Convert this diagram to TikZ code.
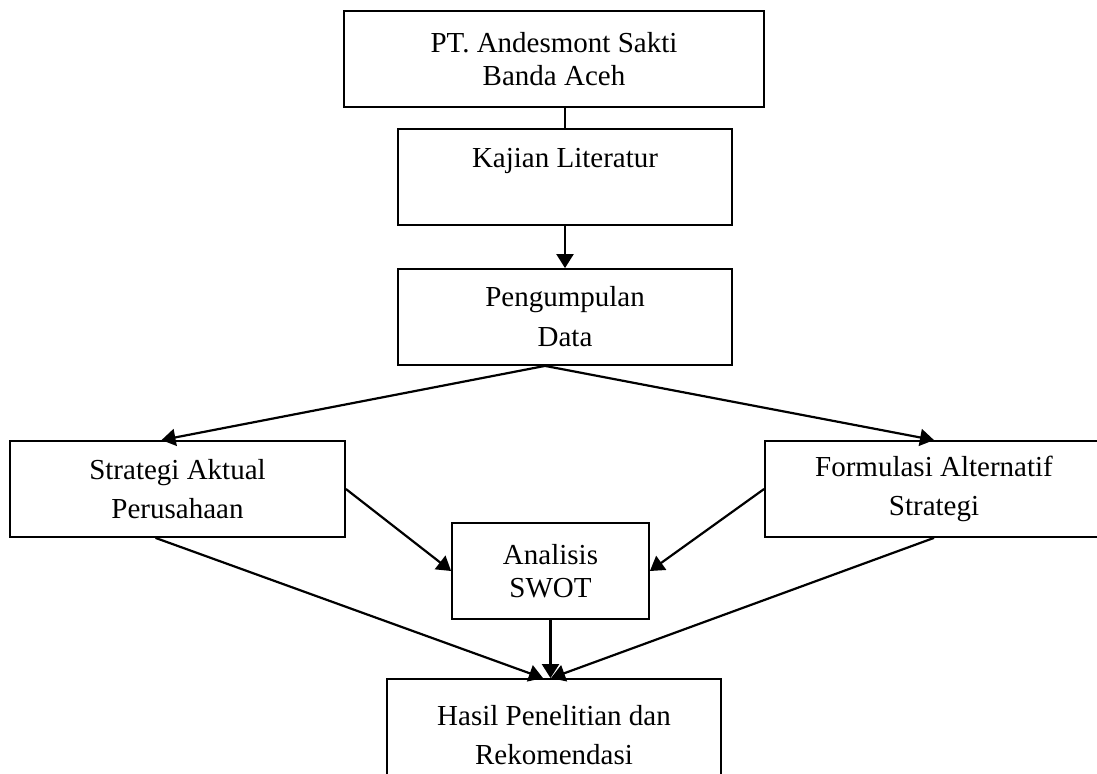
\documentclass[tikz,border=0pt]{standalone}
\usepackage{fontspec}
\setmainfont{Liberation Serif}
\usetikzlibrary{arrows.meta,calc}

\begin{document}
\begin{tikzpicture}[x=0.5pt,y=-0.5pt,
  box/.style={draw,line width=0.9pt,rectangle,align=center,inner sep=0pt,minimum height=48pt,font=\fontsize{14.5}{19.5}\selectfont},
  snug/.style={font=\fontsize{14.5}{16.5}\selectfont},
  arr/.style={line width=1.1pt,-{Triangle[length=7pt,width=8.5pt]}},
  link/.style={line width=0.9pt}]
\useasboundingbox (0,0) rectangle (1097,774);
\node[box,snug,minimum width=210pt] (andesmont) at (554,59) {PT. Andesmont Sakti\\Banda Aceh};
\node[box,minimum width=167pt] (kajian) at (565,177) {Kajian Literatur\\\mbox{}};
\node[box,font=\fontsize{14.5}{20}\selectfont,minimum width=167pt] (pengumpulan) at (565,317) {Pengumpulan\\Data};
\node[box,minimum width=167.5pt] (aktual) at (177.5,489) {Strategi Aktual\\Perusahaan};
\node[box,minimum width=169pt] (formulasi) at (934,489) {Formulasi Alternatif\\Strategi};
\node[box,snug,minimum width=98.5pt] (swot) at (550.5,571) {Analisis\\SWOT};
\node[box,minimum width=167pt,minimum height=56pt] (hasil) at (554,735) {Hasil Penelitian dan\\Rekomendasi};

\draw[link] (andesmont.south -| kajian.north) -- (kajian.north);
\draw[arr] (kajian) -- (pengumpulan);
\coordinate (split) at ($(pengumpulan.south)+(-20,0)$);
\draw[arr] (split) -- ($(aktual.north)+(-16,0)$);
\draw[arr] (split) -- (formulasi.north);
\draw[arr] (aktual.east) -- (swot.west);
\draw[arr] (formulasi.west) -- (swot.east);
\draw[arr] ($(aktual.south)+(-22,0)$) -- ($(hasil.north)+(-11,0)$);
\draw[arr] (formulasi.south) -- ($(hasil.north)+(-3,0)$);
\draw[arr] (swot.south) -- (swot.south |- hasil.north);
\end{tikzpicture}
\end{document}
